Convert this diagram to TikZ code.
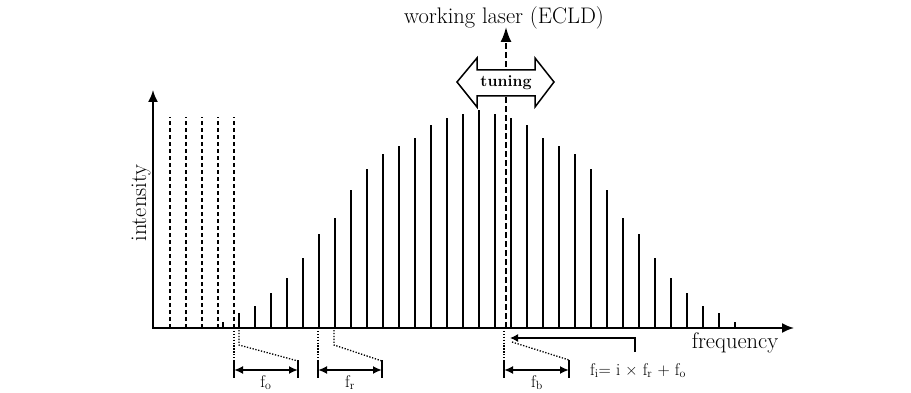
\documentclass[tikz,border=0pt]{standalone}
\usepackage{fontspec}
\usetikzlibrary{arrows.meta}
\begin{document}
\begin{tikzpicture}[x=1pt,y=-1pt,
  axis/.style={line width=1.8pt},
  bar/.style={line width=2.6pt},
  ghost/.style={line width=1.3pt,dash pattern=on 4pt off 3pt},
  laser/.style={line width=2pt,dash pattern=on 6pt off 3pt},
  guide/.style={line width=1.3pt,dash pattern=on 1.3pt off 1.6pt},
  span/.style={line width=2pt,{Latex[length=9pt,width=8pt]}-{Latex[length=9pt,width=8pt]}},
  tickmark/.style={line width=1.3pt},
  lbl/.style={font=\fontsize{22.5}{27}\selectfont,inner sep=0pt},
  sublbl/.style={font=\fontsize{17}{20}\selectfont,inner sep=0pt}]
\useasboundingbox (0,0) rectangle (911,393);

% comb lines
\foreach \k/\h in {0/218,1/214,2/210,3/203,4/190,5/182,6/174,7/159,8/138,9/110,10/94,11/70,12/50,13/35,14/22,15/15,16/6}{
  \draw[bar] (479+16*\k,328) -- ++(0,-\h);
  \draw[bar] (479-16*\k,328) -- ++(0,-\h);
}

% extrapolated (dashed) comb lines
\foreach \x in {170,186,202,218,234} \draw[ghost] (\x,328) -- (\x,117);

% axes
\coordinate (O) at (153,328);
\coordinate (ytop) at (153,90);
\coordinate (xend) at (794,328);
\draw[axis,{Latex[length=12pt,width=10pt]}-{Latex[length=12pt,width=10pt]}] (ytop) -- (O) -- (xend);

% working laser line
\coordinate (lbase) at (506,328);
\coordinate (ltop) at (506,27);
\draw[laser,-{Latex[length=15pt,width=11pt]}] (lbase) -- (ltop);

% tuning arrow
\draw[line width=1.5pt,fill=white] (457,82) -- (477,58) -- (477,70) -- (535,70) -- (535,58) -- (554,82) -- (535,107) -- (535,96) -- (477,96) -- (477,107) -- cycle;
\node[font=\bfseries\fontsize{16}{19}\selectfont,inner sep=0pt] (tun) at (506,83) {tuning};

% labels
\node[lbl,anchor=base] (wl) at (504,24) {working laser (ECLD)};
\node[lbl,anchor=base] (fq) at (735,348) {frequency};
\node[lbl,anchor=base,rotate=90] (int) at (146,203) {intensity};

% f_o
\coordinate (oa) at (234,328); \coordinate (ob) at (239,330);
\draw[guide] (oa) -- (234,362);
\draw[guide] (ob) -- (239,345) -- (298,361);
\draw[tickmark] (234,360) -- (234,378);
\draw[tickmark] (298,360) -- (298,378);
\draw[span] (234,370) -- (298,370);
\node[sublbl,anchor=base] (fo) at (266,387) {f\textsubscript{o}};

% f_r
\coordinate (ra) at (318,328); \coordinate (rb) at (334,330);
\draw[guide] (ra) -- (318,362);
\draw[guide] (rb) -- (334,345) -- (382,361);
\draw[tickmark] (318,360) -- (318,378);
\draw[tickmark] (382,360) -- (382,378);
\draw[span] (318,370) -- (382,370);
\node[sublbl,anchor=base] (fr) at (350,387) {f\textsubscript{r}};

% f_b
\coordinate (ba) at (504,328); \coordinate (bb) at (512,342);
\draw[guide] (ba) -- (504,362);
\draw[guide] (bb) -- (569,360);
\draw[tickmark] (504,360) -- (504,378);
\draw[tickmark] (569,360) -- (569,378);
\draw[span] (504,370) -- (569,370);
\node[sublbl,anchor=base] (fb) at (537,387) {f\textsubscript{b}};

% pointer and formula
\coordinate (pstart) at (635,352);
\coordinate (ptip) at (510,338);
\draw[line width=1.5pt,-{Latex[length=8pt,width=8pt]}] (pstart) |- (ptip);
\node[sublbl,anchor=base west] (formula) at (590,375) {f\textsubscript{i}= i × f\textsubscript{r} + f\textsubscript{o}};
\end{tikzpicture}
\end{document}
